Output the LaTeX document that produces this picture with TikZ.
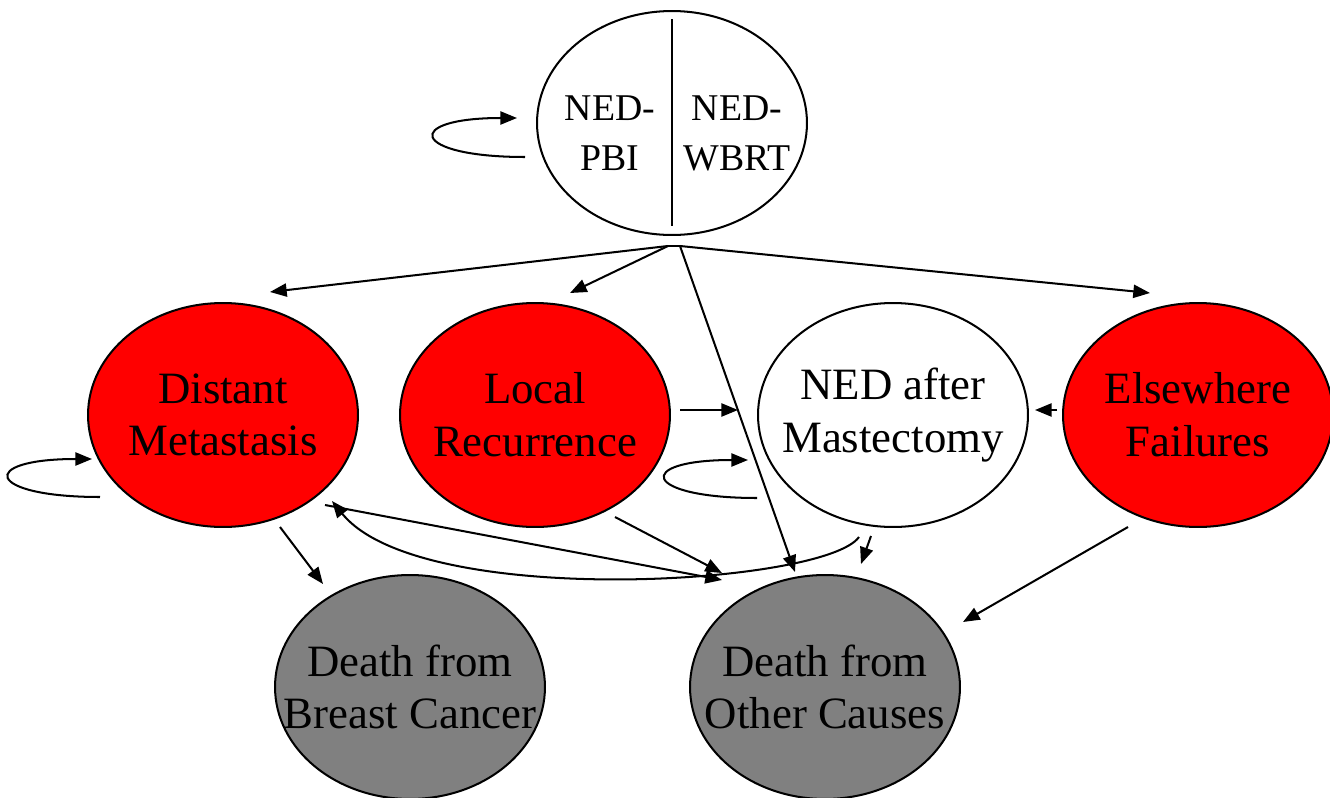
\documentclass[tikz,border=0pt]{standalone}
\usepackage{fontspec}
\setmainfont{Liberation Serif}
\usetikzlibrary{shapes, positioning, arrows.meta}
\newcommand{\bigtext}{\fontsize{25.5}{30}\selectfont}
\newcommand{\toptext}{\fontsize{21.5}{28.5}\selectfont}

\begin{document}
\begin{tikzpicture}[x=0.02cm, y=-0.02cm, line width=1.15pt,
        >={Triangle[length=9.5pt, width=7.5pt]},
        main/.style = {draw, ellipse, minimum width=5.4cm,
                        minimum height=4.48cm, inner xsep=-0.8cm,
                        inner ysep=0pt, align=center, font=\bigtext},
        fail/.style = {main, fill=red},
        dead/.style = {main, fill=gray},
        well/.style = {main, fill=white}]
        \useasboundingbox (0,0) rectangle (1330,798);

        \node[main] (ned) at (672,123) {};
        \node[align=center, font=\toptext] (pbi) at ([shift={(-62,10)}]ned.center) {NED-\\PBI};
        \node[align=center, font=\toptext] (wbrt) at ([shift={(65,10)}]ned.center) {NED-\\WBRT};
        \draw ([shift={(0,9)}]ned.north) -- ([shift={(0,-10)}]ned.south);

        \node[fail] (dm) at (223,415) {Distant\\Metastasis};
        \node[fail] (lr) at (535,415) {Local\\Recurrence};
        \node[well] (nam) at (893,415) {NED after\\Mastectomy};
        \node[fail] (ef) at (1198,415) {Elsewhere\\Failures};
        \node[dead] (dbc) at (410,687) {Death from\\Breast Cancer};
        \node[dead] (doc) at (825,687) {Death from\\Other Causes};

        % transitions out of the initial state
        \coordinate (hubl) at ([shift={(-4,10)}]ned.south);
        \coordinate (hubr) at ([shift={(8,10)}]ned.south);
        \draw (hubl) -- (hubr);
        \draw[->] (hubl) -- ([shift={(47,-123)}]dm.center);
        \draw[->] (hubl) -- ([shift={(35,-122)}]lr.center);
        \draw[->] (hubr) -- ([shift={(-30,-115)}]doc.center);
        \draw[->] (hubr) -- ([shift={(-48,-122)}]ef.center);

        % staying put
        \draw[->] ([shift={(-147,34)}]ned.center) .. controls ([shift={(-262,34)}]ned.center)
                and ([shift={(-270,-5)}]ned.center) .. ([shift={(-155,-5)}]ned.center);
        \draw[->] ([shift={(-123,82)}]dm.center) .. controls ([shift={(-238,82)}]dm.center)
                and ([shift={(-246,44)}]dm.center) .. ([shift={(-131,44)}]dm.center);
        \draw[->] ([shift={(-136,83)}]nam.center) .. controls ([shift={(-251,83)}]nam.center)
                and ([shift={(-260,45)}]nam.center) .. ([shift={(-145,45)}]nam.center);

        \draw[->] ([shift={(145,-5)}]lr.center) -- ([shift={(-155,-5)}]nam.center);
        \draw[->] ([shift={(-141,-5)}]ef.center) -- ([shift={(142,-5)}]nam.center);
        \draw[->] ([shift={(57,112)}]dm.center) -- ([shift={(-87,-103)}]dbc.center);
        \draw[->] ([shift={(102,90)}]dm.center) -- ([shift={(-103,-107)}]doc.center);
        \draw[->] ([shift={(80,102)}]lr.center) -- ([shift={(-103,-114)}]doc.center);
        \draw[->] ([shift={(-22,121)}]nam.center) -- ([shift={(36,-123)}]doc.center);
        \draw[->] ([shift={(-70,112)}]ef.center) -- ([shift={(138,-65)}]doc.center);
        \draw[->] ([shift={(-34,122)}]nam.center) .. controls ([shift={(-68,170)}]nam.center)
                and ([shift={(197,195)}]dm.center) .. ([shift={(109,86)}]dm.center);
    \end{tikzpicture}
\end{document}
